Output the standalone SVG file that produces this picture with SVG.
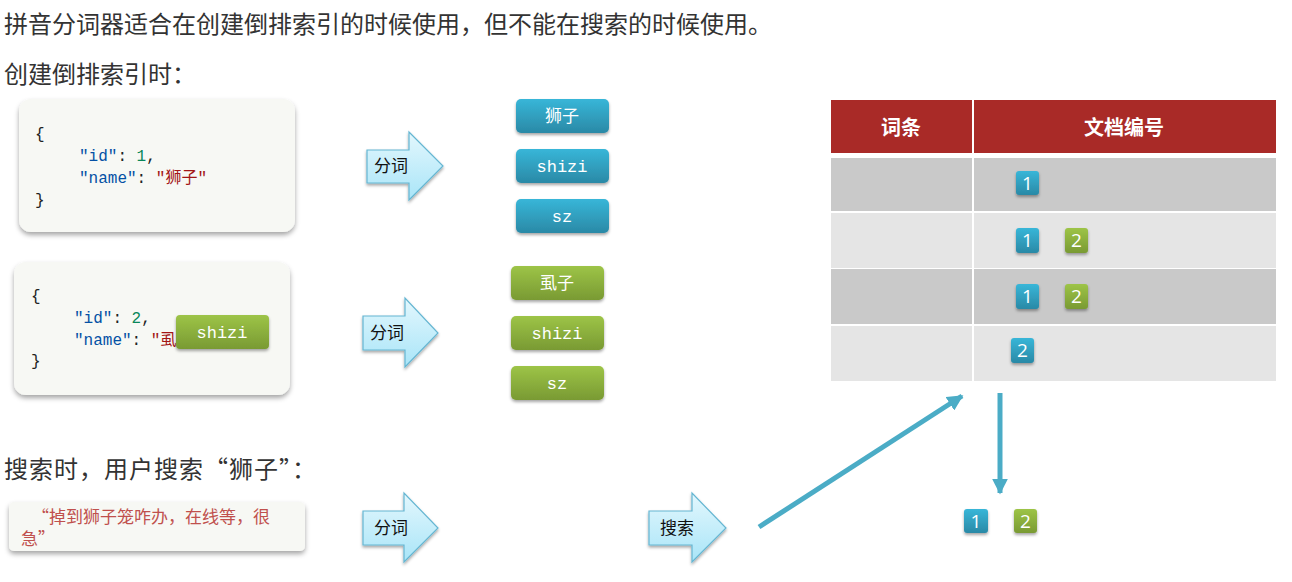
<svg xmlns="http://www.w3.org/2000/svg" width="1292" height="582" viewBox="0 0 1292 582">
<defs>
<linearGradient id="gBlue" x1="0" y1="0" x2="0" y2="1"><stop offset="0" stop-color="#38b6d8"/><stop offset="1" stop-color="#2a89a6"/></linearGradient>
<linearGradient id="gGreen" x1="0" y1="0" x2="0" y2="1"><stop offset="0" stop-color="#9dc447"/><stop offset="1" stop-color="#799a33"/></linearGradient>
<linearGradient id="gArrow" x1="0" y1="0" x2="0" y2="1"><stop offset="0" stop-color="#e3f7fd"/><stop offset="1" stop-color="#a9e5f8"/></linearGradient>
<filter id="sh" x="-20%" y="-20%" width="140%" height="150%"><feDropShadow dx="0" dy="3" stdDeviation="2.5" flood-color="#000" flood-opacity="0.35"/></filter>
<filter id="shs" x="-30%" y="-30%" width="160%" height="170%"><feDropShadow dx="0" dy="2" stdDeviation="1.5" flood-color="#000" flood-opacity="0.35"/></filter>
<marker id="ah" viewBox="0 0 10 10" refX="9" refY="5" markerWidth="3.2" markerHeight="3.2" orient="auto" markerUnits="strokeWidth"><path d="M0,0 L10,5 L0,10 z" fill="#4bacc6"/></marker>
<style>
.h{font-family:"Noto Sans CJK SC","Noto Sans",sans-serif;font-size:24px;fill:#333}
.code{font-family:"Liberation Mono","DejaVu Sans Mono","Noto Sans CJK SC",monospace;font-size:16px}
.k{fill:#0451a5}.n{fill:#098658}.s{fill:#a31515}.p{fill:#222}
.card{fill:#f7f8f4;filter:url(#sh)}
.tagb{fill:url(#gBlue);filter:url(#shs)}
.tagg{fill:url(#gGreen);filter:url(#shs)}
.tt{font-family:"Liberation Mono","DejaVu Sans Mono","Noto Sans CJK SC",monospace;font-size:17px;fill:#fff;text-anchor:middle}
.arr{fill:url(#gArrow);stroke:#65b6d2;stroke-width:1.2;filter:url(#shs)}
.at{font-family:"Noto Sans CJK SC",sans-serif;font-size:17px;fill:#111}
.bd{font-family:"Open Sans","Liberation Sans",sans-serif;font-size:19px;fill:#fff;text-anchor:middle}
.th{font-family:"Noto Sans CJK SC",sans-serif;font-size:20px;font-weight:bold;fill:#fff;text-anchor:middle}
.q{font-family:"Noto Sans CJK SC",sans-serif;font-size:17px;fill:#c0504d}
.conn{stroke:#4bacc6;stroke-width:5;fill:none}
</style>
</defs>
<rect width="1292" height="582" fill="#fff"/>

<g id="titles">
<text class="h" x="4" y="33">拼音分词器适合在创建倒排索引的时候使用，但不能在搜索的时候使用。</text>
<text class="h" x="4" y="83">创建倒排索引时：</text>
<text class="h" x="4" y="478" letter-spacing="1">搜索时，用户搜索“狮子”：</text>
</g>

<g id="doc1">
<rect class="card" x="19" y="99" width="276" height="133" rx="12"/>
<text class="code" x="35" y="139"><tspan class="p">{</tspan></text>
<text class="code" x="79" y="161"><tspan class="k">"id"</tspan><tspan class="p">: </tspan><tspan class="n">1</tspan><tspan class="p">,</tspan></text>
<text class="code" x="79" y="183"><tspan class="k">"name"</tspan><tspan class="p">: </tspan><tspan class="s">"狮子"</tspan></text>
<text class="code" x="35" y="205"><tspan class="p">}</tspan></text>
</g>

<g id="doc2">
<rect class="card" x="14" y="262" width="276" height="133" rx="12"/>
<text class="code" x="31" y="301"><tspan class="p">{</tspan></text>
<text class="code" x="74" y="323"><tspan class="k">"id"</tspan><tspan class="p">: </tspan><tspan class="n">2</tspan><tspan class="p">,</tspan></text>
<text class="code" x="74" y="345"><tspan class="k">"name"</tspan><tspan class="p">: </tspan><tspan class="s">"虱子"</tspan></text>
<text class="code" x="31" y="366"><tspan class="p">}</tspan></text>
</g>

<g id="doc2-shizi">
<rect class="tagg" x="176" y="315" width="93" height="34" rx="4"/>
<text class="tt" x="222" y="338">shizi</text>
</g>

<g id="split1">
<path class="arr" d="M367,150 H409 V132 L443,166 L409,200 V183 H367 Z"/>
<text class="at" x="374" y="172">分词</text>
</g>
<g id="split2">
<path class="arr" d="M363,316 H405 V298 L438,333 L405,367 V350 H363 Z"/>
<text class="at" x="370" y="339">分词</text>
</g>
<g id="split3">
<path class="arr" d="M363,511 H404 V493 L438,528 L404,562 V545 H363 Z"/>
<text class="at" x="374" y="534">分词</text>
</g>
<g id="search">
<path class="arr" d="M649,511 H692 V493 L726,528 L692,562 V545 H649 Z"/>
<text class="at" x="660" y="534">搜索</text>
</g>

<g id="tags1">
<rect class="tagb" x="516" y="99" width="93" height="34" rx="5"/>
<text class="tt" x="562" y="122" font-family="Noto Sans CJK SC">狮子</text>
<rect class="tagb" x="516" y="149" width="93" height="34" rx="5"/>
<text class="tt" x="562" y="172">shizi</text>
<rect class="tagb" x="516" y="199" width="93" height="34" rx="5"/>
<text class="tt" x="562" y="222">sz</text>
</g>

<g id="tags2">
<rect class="tagg" x="511" y="266" width="93" height="34" rx="5"/>
<text class="tt" x="557" y="289" font-family="Noto Sans CJK SC">虱子</text>
<rect class="tagg" x="511" y="316" width="93" height="34" rx="5"/>
<text class="tt" x="557" y="339">shizi</text>
<rect class="tagg" x="511" y="366" width="93" height="34" rx="5"/>
<text class="tt" x="557" y="389">sz</text>
</g>

<g id="index-table">
<rect x="831" y="100" width="445" height="53" fill="#a92a27"/>
<rect x="831" y="158" width="445" height="53" fill="#c9c9c9"/>
<rect x="831" y="213" width="445" height="55" fill="#e5e5e5"/>
<rect x="831" y="269" width="445" height="55" fill="#c9c9c9"/>
<rect x="831" y="326" width="445" height="55" fill="#e5e5e5"/>
<rect x="972" y="100" width="2" height="281" fill="#fff"/>
<text class="th" x="901" y="135">词条</text>
<text class="th" x="1124" y="135">文档编号</text>
<rect class="tagb" x="1016" y="171" width="23" height="24" rx="3"/><text class="bd" x="1027.5" y="190">1</text>
<rect class="tagb" x="1016" y="228" width="23" height="25" rx="3"/><text class="bd" x="1027.5" y="247">1</text>
<rect class="tagg" x="1065" y="228" width="23" height="25" rx="3"/><text class="bd" x="1076.5" y="247">2</text>
<rect class="tagb" x="1016" y="284" width="23" height="25" rx="3"/><text class="bd" x="1027.5" y="303">1</text>
<rect class="tagg" x="1065" y="284" width="23" height="25" rx="3"/><text class="bd" x="1076.5" y="303">2</text>
<rect class="tagb" x="1011" y="338" width="23" height="25" rx="3"/><text class="bd" x="1022.5" y="357">2</text>
</g>

<g id="query">
<rect class="card" x="9" y="502" width="296" height="49" rx="5"/>
<text class="q" x="32" y="523">“掉到狮子笼咋办，在线等，很</text>
<text class="q" x="21" y="545">急”</text>
</g>

<g id="result">
<rect class="tagb" x="964" y="509" width="24" height="24" rx="3"/><text class="bd" x="976" y="528">1</text>
<rect class="tagg" x="1014" y="509" width="23" height="24" rx="3"/><text class="bd" x="1025.5" y="528">2</text>
</g>

<g id="connectors">
<line class="conn" x1="759" y1="527" x2="962" y2="396" marker-end="url(#ah)"/>
<line class="conn" x1="1000" y1="393" x2="1000" y2="493" marker-end="url(#ah)"/>
</g>
</svg>
